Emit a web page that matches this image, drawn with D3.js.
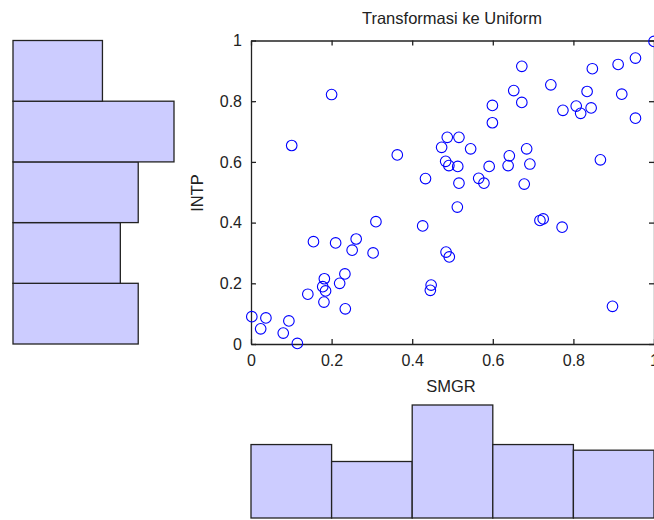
<!DOCTYPE html>
<html>
<head>
<meta charset="utf-8">
<script src="https://cdn.jsdelivr.net/npm/d3@7"></script>
<style>
  html, body { margin: 0; padding: 0; background: #ffffff; }
  svg { display: block; font-family: "Liberation Sans", Arial, sans-serif; }
</style>
</head>
<body>
<svg id="chart" width="654" height="520"></svg>
<script>
// ---- data ----
const titleText = "Transformasi ke Uniform";
const xLabel = "SMGR";
const yLabel = "INTP";
const tickValues = [0, 0.2, 0.4, 0.6, 0.8, 1];
const tickLabels = ["0", "0.2", "0.4", "0.6", "0.8", "1"];
const binEdges = [0, 0.2, 0.4, 0.6, 0.8, 1];

const smgr = [
  0.200, 0.101, 0.363, 0.433, 0.487, 0.473, 0.483, 0.491, 1.000, 0.672,
  0.954, 0.911, 0.847, 0.744, 0.652, 0.834, 0.920, 0.672, 0.599, 0.807,
  0.844, 0.774, 0.818, 0.599, 0.954, 0.516, 0.545, 0.513, 0.641, 0.684,
  0.591, 0.638, 0.692, 0.867, 0.516, 0.565, 0.578, 0.678, 0.512, 0.717,
  0.725, 0.772, 0.484, 0.492, 0.897, 0.310, 0.426, 0.155, 0.210, 0.261,
  0.251, 0.303, 0.233, 0.182, 0.220, 0.178, 0.185, 0.141, 0.181, 0.234,
  0.447, 0.445, 0.002, 0.037, 0.094, 0.024, 0.080, 0.115
];
const intp = [
  0.822, 0.654, 0.623, 0.545, 0.681, 0.648, 0.602, 0.588, 0.997, 0.915,
  0.942, 0.921, 0.907, 0.854, 0.835, 0.832, 0.823, 0.796, 0.786, 0.784,
  0.778, 0.770, 0.760, 0.729, 0.744, 0.681, 0.643, 0.585, 0.620, 0.643,
  0.585, 0.588, 0.593, 0.607, 0.530, 0.546, 0.530, 0.527, 0.451, 0.407,
  0.412, 0.385, 0.303, 0.287, 0.124, 0.403, 0.389, 0.337, 0.333, 0.346,
  0.309, 0.300, 0.231, 0.215, 0.200, 0.189, 0.175, 0.164, 0.138, 0.116,
  0.194, 0.177, 0.090, 0.086, 0.076, 0.050, 0.036, 0.002
];

// ---- build ----
const svg = d3.select("#chart");
const points = smgr.map((v, i) => ({ x: v, y: intp[i] }));

const x = d3.scaleLinear().domain([0, 1]).range([251, 654]);
const y = d3.scaleLinear().domain([0, 1]).range([344, 40.5]);

const binner = d3.bin().domain([0, 1]).thresholds(binEdges.slice(1, -1));
const xBins = binner(smgr);
const yBins = binner(intp);

const barFill = "#ccccff";
const barStroke = "#222222";
const axisColor = "#222222";

// left histogram (INTP), bars grow to the right
const cLeft = d3.scaleLinear().domain([0, 18]).range([13, 174]);
svg.append("g").selectAll("rect").data(yBins).join("rect")
  .attr("x", cLeft(0))
  .attr("y", d => y(d.x1))
  .attr("width", d => cLeft(d.length) - cLeft(0))
  .attr("height", d => y(d.x0) - y(d.x1))
  .attr("fill", barFill)
  .attr("stroke", barStroke)
  .attr("stroke-width", 1.3);

// bottom histogram (SMGR)
const cBottom = d3.scaleLinear().domain([0, 20]).range([518, 405]);
svg.append("g").selectAll("rect").data(xBins).join("rect")
  .attr("x", d => x(d.x0))
  .attr("y", d => cBottom(d.length))
  .attr("width", d => x(d.x1) - x(d.x0))
  .attr("height", d => cBottom(0) - cBottom(d.length))
  .attr("fill", barFill)
  .attr("stroke", barStroke)
  .attr("stroke-width", 1.3);

// axes (ticks inward, box)
const fmt = (d, i) => tickLabels[tickValues.indexOf(d)];
function styleAxis(g) {
  g.select(".domain").attr("stroke", axisColor).attr("stroke-width", 1.3);
  g.selectAll(".tick line").attr("stroke", axisColor).attr("stroke-width", 1.3);
  g.selectAll(".tick text").attr("fill", "#222").style("font-size", "16px");
  g.attr("font-family", null).attr("font-size", null);
}
svg.append("g").attr("transform", `translate(0,${y(0)})`)
  .call(d3.axisBottom(x).tickValues(tickValues).tickFormat(fmt)
    .tickSize(-5).tickSizeOuter(0).tickPadding(11))
  .call(styleAxis);
svg.append("g").attr("transform", `translate(0,${y(1)})`)
  .call(d3.axisTop(x).tickValues(tickValues).tickFormat("")
    .tickSize(-5).tickSizeOuter(0))
  .call(styleAxis);
svg.append("g").attr("transform", `translate(${x(0)},0)`)
  .call(d3.axisLeft(y).tickValues(tickValues).tickFormat(fmt)
    .tickSize(-5).tickSizeOuter(0).tickPadding(9))
  .call(styleAxis);
svg.append("g").attr("transform", `translate(${x(1)},0)`)
  .call(d3.axisRight(y).tickValues(tickValues).tickFormat("")
    .tickSize(-5).tickSizeOuter(0))
  .call(styleAxis);

// scatter points
svg.append("g").selectAll("circle").data(points).join("circle")
  .attr("cx", d => x(d.x))
  .attr("cy", d => y(d.y))
  .attr("r", 5.3)
  .attr("fill", "none")
  .attr("stroke", "#0000ff")
  .attr("stroke-width", 1.1);

// labels
svg.append("text").attr("x", 452).attr("y", 24)
  .attr("text-anchor", "middle").attr("fill", "#222")
  .style("font-size", "16.5px").text(titleText);
svg.append("text").attr("x", 451).attr("y", 391.5)
  .attr("text-anchor", "middle").attr("fill", "#222")
  .style("font-size", "16.5px").text(xLabel);
svg.append("text").attr("transform", "translate(203,193) rotate(-90)")
  .attr("text-anchor", "middle").attr("fill", "#222")
  .style("font-size", "16.5px").text(yLabel);
</script>
</body>
</html>
